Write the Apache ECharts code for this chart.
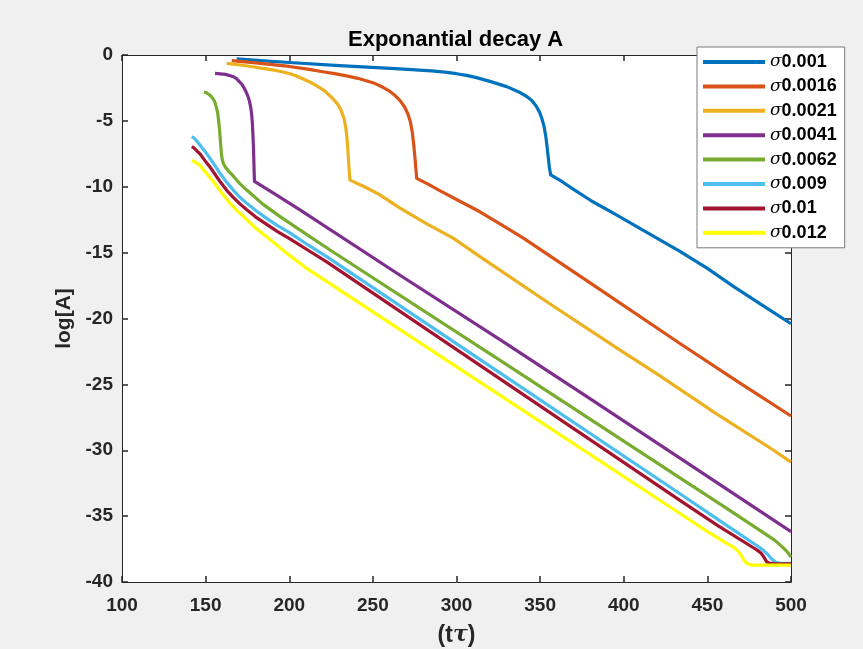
<!DOCTYPE html>
<html>
<head>
<meta charset="utf-8">
<script src="https://cdn.jsdelivr.net/npm/echarts@6/dist/echarts.min.js"></script>
<style>
html,body{margin:0;padding:0;background:#f0f0f0;}
#c{width:863px;height:649px;}
</style>
</head>
<body>
<div id="c"></div>
<script>
// ---- data (x = tτ, y = log[A]) ----
const seriesNames = ['σ0.001','σ0.0016','σ0.0021','σ0.0041','σ0.0062','σ0.009','σ0.01','σ0.012'];
const colors = ['#0072BD','#D95319','#EDB120','#7E2F8E','#77AC30','#4DBEEE','#A2142F','#FFFF00'];
const xTicks = [100,150,200,250,300,350,400,450,500];
const yTicks = [0,-5,-10,-15,-20,-25,-30,-35,-40];

const s0001 = [[168.6,-0.3],[185,-0.45],[200,-0.57],[230,-0.8],[266,-1.05],[285,-1.2],[293,-1.3],[300,-1.42],[306,-1.55],[312,-1.72],[320,-2.0],[330,-2.4],[338,-2.85],[342,-3.15],[345,-3.45],[347.5,-3.85],[349.5,-4.3],[351,-4.8],[352.3,-5.4],[353.3,-6.1],[354.1,-6.9],[354.8,-7.7],[355.5,-8.5],[356.3,-9.1],[363,-9.6],[370,-10.2],[381,-11.1],[393.8,-12.0],[413,-13.4],[433.6,-14.9],[450,-16.2],[466,-17.6],[483,-19.0],[500,-20.4]];
const s0016 = [[165.6,-0.43],[180,-0.6],[200,-0.87],[210,-1.05],[220,-1.27],[228,-1.43],[235,-1.6],[241,-1.77],[246,-1.95],[251,-2.15],[256,-2.45],[260,-2.75],[263.5,-3.1],[266.5,-3.5],[269,-3.95],[271,-4.5],[272.5,-5.1],[273.6,-5.9],[274.5,-6.9],[275.3,-8.0],[276.2,-9.36],[283,-9.8],[290,-10.3],[302,-11.1],[314,-11.9],[327,-12.9],[340,-13.9],[387,-17.9],[433.6,-21.9],[467,-24.7],[500,-27.4]];
const s0021 = [[162.6,-0.63],[172,-0.78],[180,-0.93],[185,-1.03],[190,-1.13],[195,-1.25],[200,-1.4],[204,-1.58],[208,-1.8],[212,-2.03],[216,-2.3],[221,-2.7],[226,-3.3],[229,-3.75],[231,-4.2],[232.7,-4.8],[233.8,-5.5],[234.6,-6.4],[235.2,-7.5],[235.7,-8.5],[236.3,-9.5],[245,-10.0],[254,-10.6],[266,-11.6],[282,-12.8],[298,-13.9],[314,-15.3],[356,-18.9],[397.8,-22.4],[421.7,-24.36],[455,-27.2],[489.4,-29.98],[500,-30.9]];
const s0041 = [[155.6,-1.4],[162,-1.47],[166.6,-1.65],[168.5,-1.8],[170,-2.0],[171.5,-2.2],[172.8,-2.45],[174,-2.75],[175.2,-3.1],[176.2,-3.5],[177,-4.0],[177.6,-4.6],[178,-5.3],[178.3,-6.1],[178.6,-7.0],[178.8,-7.9],[179,-8.8],[179.2,-9.6],[192,-10.6],[206.4,-11.76],[266,-16.7],[326,-21.6],[380,-26.1],[433.6,-30.6],[467,-33.4],[500,-36.18]];
const s0062 = [[149,-2.8],[150.5,-2.87],[152,-3.0],[153.4,-3.15],[154.6,-3.35],[155.6,-3.6],[156.5,-4.0],[157.2,-4.4],[157.7,-4.9],[158.2,-5.5],[158.6,-6.1],[159,-6.8],[159.4,-7.4],[159.8,-7.85],[160.5,-8.2],[162,-8.55],[164,-8.85],[166.6,-9.2],[170,-9.7],[174.6,-10.25],[184,-11.3],[194.5,-12.27],[209,-13.5],[224.4,-14.8],[330,-23.5],[433.6,-32.1],[462,-34.45],[490,-36.8],[495,-37.35],[498,-37.75],[500,-38.1]];
const s0090 = [[141.7,-6.2],[143,-6.3],[144.5,-6.5],[146.6,-6.83],[149.5,-7.3],[152.6,-7.84],[155.6,-8.4],[158.6,-8.98],[162.5,-9.65],[166.5,-10.25],[170.5,-10.8],[174.6,-11.26],[180,-11.8],[186.5,-12.4],[193,-12.95],[200.4,-13.5],[211,-14.4],[222.4,-15.3],[328,-24.3],[433.6,-33.3],[458,-35.4],[481.5,-37.4],[484,-37.65],[486,-37.9],[488,-38.2],[489.4,-38.35],[491,-38.5],[493,-38.56],[500,-38.58]];
const s0100 = [[141.7,-6.96],[143,-7.05],[144.5,-7.25],[146.6,-7.5],[149.5,-8.0],[152.6,-8.5],[155.6,-9.05],[158.6,-9.6],[162.5,-10.25],[166.5,-10.8],[170.5,-11.3],[174.6,-11.75],[180,-12.3],[186.5,-12.85],[193,-13.4],[200.4,-13.95],[211,-14.8],[222.4,-15.7],[328,-24.75],[433.6,-33.8],[456,-35.7],[477.5,-37.4],[480,-37.6],[482,-37.8],[483.5,-38.05],[485.4,-38.45],[487,-38.57],[490,-38.6],[500,-38.62]];
const s0120 = [[141.7,-8.02],[143,-8.07],[144.5,-8.2],[146.6,-8.38],[150,-8.9],[154.6,-9.6],[159.5,-10.45],[164.6,-11.26],[169.5,-11.9],[174.6,-12.5],[180,-13.15],[186.5,-13.8],[198,-15.0],[210.4,-16.2],[322,-25.5],[433.6,-34.8],[448,-36.0],[462,-37.1],[465,-37.3],[467.5,-37.55],[469.5,-37.85],[471.2,-38.2],[472.8,-38.5],[474.5,-38.65],[477,-38.72],[500,-38.72]];
const allData = [s0001,s0016,s0021,s0041,s0062,s0090,s0100,s0120];

const FONT = '"Liberation Sans", Arial, Helvetica, sans-serif';
const axisColor = '#262626';

const chart = echarts.init(document.getElementById('c'), null, {renderer:'canvas'});

function baseX(pos, showLabels){
  return {
    type:'value', position:pos, min:100, max:500, interval:50,
    axisLine:{show:true, onZero:false, lineStyle:{color:axisColor, width:1}},
    axisTick:{show:true, inside:true, length:6, lineStyle:{color:axisColor, width:1.5}},
    axisLabel:{show:showLabels, margin:14, color:axisColor, fontFamily:FONT, fontWeight:'bold', fontSize:19},
    splitLine:{show:false}
  };
}
function baseY(pos, showLabels){
  return {
    type:'value', position:pos, min:-40, max:0, interval:5,
    axisLine:{show:true, onZero:false, lineStyle:{color:axisColor, width:1}},
    axisTick:{show:true, inside:true, length:6, lineStyle:{color:axisColor, width:1.5}},
    axisLabel:{show:showLabels, margin:9, color:axisColor, fontFamily:FONT, fontWeight:'bold', fontSize:19},
    splitLine:{show:false}
  };
}

const xBottom = baseX('bottom', true);
xBottom.name = '{b|(t}{i|τ}{b|)}';
xBottom.nameLocation = 'middle';
xBottom.nameGap = 42;
xBottom.nameTextStyle = {
  color:axisColor, fontFamily:FONT, fontWeight:'bold', fontSize:22,
  rich:{
    b:{fontFamily:FONT, fontWeight:'bold', fontSize:23, color:axisColor},
    i:{fontFamily:'"DejaVu Serif", serif', fontStyle:'italic', fontSize:22, color:axisColor}
  }
};
const yLeft = baseY('left', true);
yLeft.name = 'log[A]';
yLeft.nameLocation = 'middle';
yLeft.nameGap = 47;
yLeft.nameTextStyle = {color:axisColor, fontFamily:FONT, fontWeight:'bold', fontSize:21};

const option = {
  backgroundColor:'#f0f0f0',
  animation:false,
  grid:{left:122, top:55, width:669, height:527, show:true, backgroundColor:'#ffffff', borderWidth:0,
        containLabel:false, outerBoundsMode:'none'},
  xAxis:[xBottom, baseX('top', false)],
  yAxis:[yLeft, baseY('right', false)],
  legend:{
    orient:'vertical', left:697, top:47,
    backgroundColor:'#ffffff', borderColor:'#7a7a7a', borderWidth:1,
    padding:[6,8,6,6], itemGap:6.4,
    itemWidth:62, itemHeight:4, icon:'rect',
    data: seriesNames,
    formatter: function(name){ return '{s|σ}{n|' + name.substring(1) + '}'; },
    textStyle:{
      rich:{
        s:{fontFamily:'"DejaVu Serif", serif', fontStyle:'italic', fontSize:17, color:'#000'},
        n:{fontFamily:FONT, fontWeight:'bold', fontSize:18, color:'#000'}
      }
    }
  },
  graphic:[{
    type:'text', left:348, top:29,
    style:{text:'Exponantial decay A', fill:'#000', font:'bold 22px ' + FONT}
  }],
  series: allData.map(function(d, i){
    return {
      type:'line', name:seriesNames[i], data:d, xAxisIndex:0, yAxisIndex:0,
      showSymbol:false, symbol:'none', smooth:false,
      lineStyle:{color:colors[i], width:3.2, join:'round'},
      itemStyle:{color:colors[i]},
      z: 2 + i
    };
  })
};
chart.setOption(option);
</script>
</body>
</html>
